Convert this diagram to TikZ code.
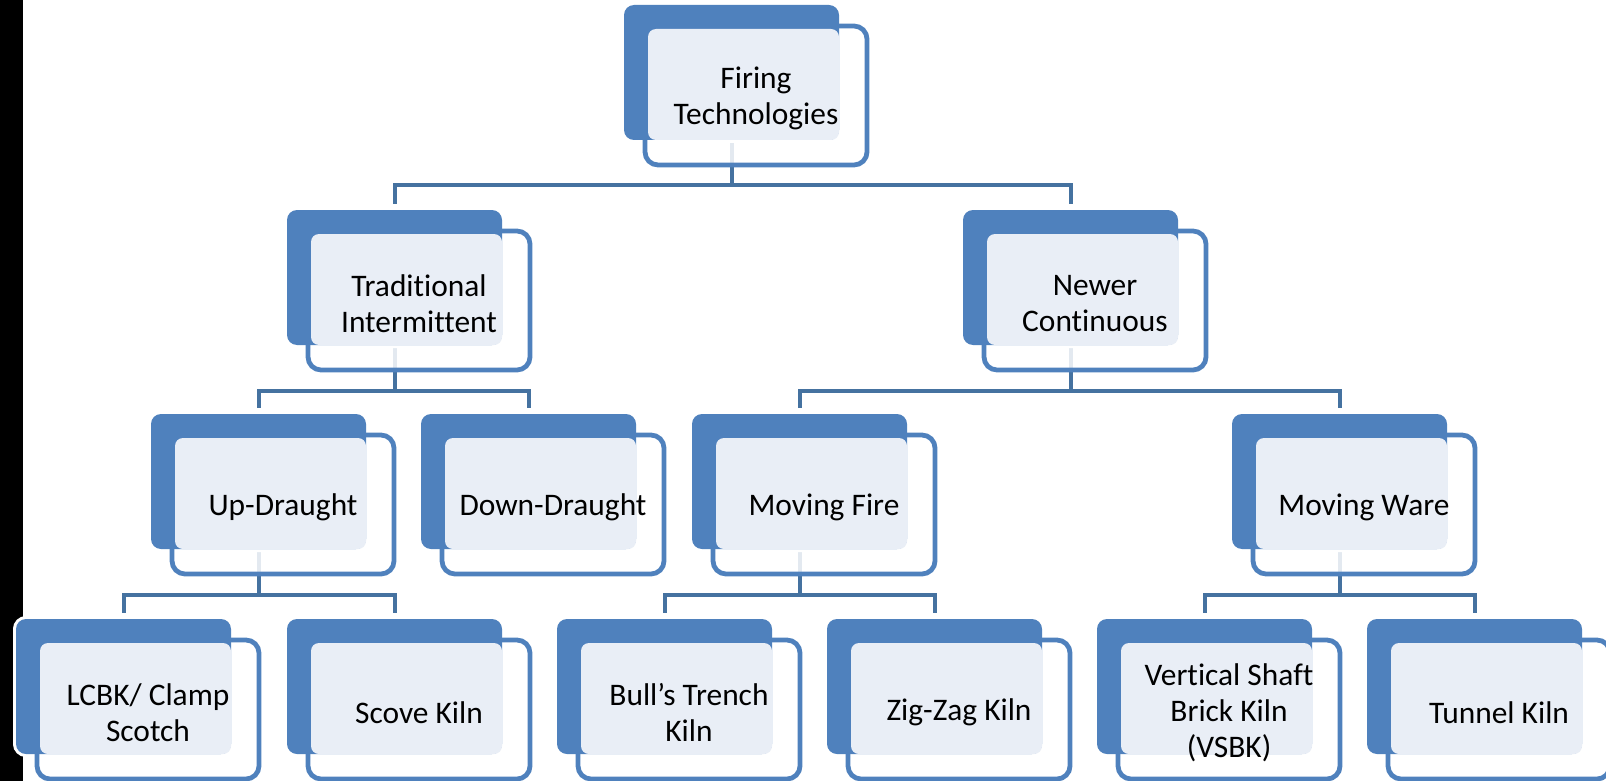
\documentclass[tikz,border=0pt]{standalone}
\usepackage{fontspec}
\setmainfont[Ligatures=NoCommon]{Carlito}
\definecolor{kblue}{RGB}{79,129,189}
\definecolor{klight}{RGB}{233,238,246}
\definecolor{kconn}{RGB}{69,114,160}
\pgfdeclarelayer{bg}
\pgfsetlayers{bg,main}
\tikzset{
  frontbox/.style={draw=kblue, line width=2.4pt, fill=white, fill opacity=0.85, draw opacity=1,
    rounded corners=6.5pt, minimum width=111pt, minimum height=69.5pt, inner sep=0pt, outer sep=0pt},
  backline/.style={draw=white, line width=3pt, rounded corners=5pt,
    minimum width=107.5pt, minimum height=67.5pt, inner sep=0pt, outer sep=0pt},
  backbox/.style={fill=kblue, draw=none, rounded corners=5pt,
    minimum width=107.5pt, minimum height=67.5pt, inner sep=0pt, outer sep=0pt},
  lightbox/.style={fill=klight, draw=none, rounded corners=4pt,
    minimum width=95.5pt, minimum height=55.5pt, inner sep=0pt, outer sep=0pt},
  txt/.style={align=center, inner sep=0pt, text=black, font=\fontsize{15.7}{18}\selectfont},
  conn/.style={draw=kconn, line width=2pt}
}
\newcommand\kilnbox[4]{%
  \node[backline] (#1o) at (#2+107.5,#3+67.5) {};
  \node[frontbox] (#1f) at (#2+132,#3+90.5) {};
  \node[backbox] (#1) at (#2+107.5,#3+67.5) {};
  \node[lightbox] (#1l) at (#2+119.5,#3+79.5) {};
  \node[txt] (#1t) at (#2+132,#3+93.5) {#4};
}
\begin{document}
\begin{tikzpicture}[x=0.5pt,y=-0.5pt]
  \useasboundingbox (0,0) rectangle (1606,781);
  \fill[black] (0,0) rectangle (23,781);
  % level 1
  \kilnbox{fir}{624}{5}{Firing\\Technologies}
  % level 2
  \kilnbox{trad}{287}{210}{Traditional\\Intermittent}
  \kilnbox{new}{963}{210}{Newer\\Continuous}
  % level 3
  \kilnbox{up}{151}{414}{Up-Draught}
  \kilnbox{down}{421}{414}{Down-Draught}
  \kilnbox{mfire}{692}{414}{Moving Fire}
  \kilnbox{mware}{1232}{414}{Moving Ware}
  % level 4
  \kilnbox{lcbk}{16}{619}{LCBK/ Clamp\\Scotch}
  \kilnbox{scove}{287}{619}{Scove Kiln}
  \kilnbox{bull}{557}{619}{Bull’s Trench\\Kiln}
  \kilnbox{zig}{827}{619}{Zig-Zag Kiln}
  \kilnbox{vsbk}{1097}{619}{Vertical Shaft\\Brick Kiln\\(VSBK)}
  \kilnbox{tun}{1367}{619}{Tunnel Kiln}
  % connectors
  \begin{pgfonlayer}{bg}
    \coordinate (barA) at (0,185);
    \coordinate (barB) at (0,391);
    \coordinate (barC) at (0,595);
    \draw[conn] (fir.center) -- (fir.center |- barA) -| ([yshift=3pt]trad.north);
    \draw[conn] (fir.center |- barA) -| ([yshift=3pt]new.north);
    \draw[conn] (trad.center) -- (trad.center |- barB) -| ([yshift=3pt]up.north);
    \draw[conn] (trad.center |- barB) -| ([yshift=3pt]down.north);
    \draw[conn] (new.center) -- (new.center |- barB) -| ([yshift=3pt]mfire.north);
    \draw[conn] (new.center |- barB) -| ([yshift=3pt]mware.north);
    \draw[conn] (up.center) -- (up.center |- barC) -| ([yshift=3pt]lcbk.north);
    \draw[conn] (up.center |- barC) -| ([yshift=3pt]scove.north);
    \draw[conn] (mfire.center) -- (mfire.center |- barC) -| ([yshift=3pt]bull.north);
    \draw[conn] (mfire.center |- barC) -| ([yshift=3pt]zig.north);
    \draw[conn] (mware.center) -- (mware.center |- barC) -| ([yshift=3pt]vsbk.north);
    \draw[conn] (mware.center |- barC) -| ([yshift=3pt]tun.north);
  \end{pgfonlayer}
\end{tikzpicture}
\end{document}
